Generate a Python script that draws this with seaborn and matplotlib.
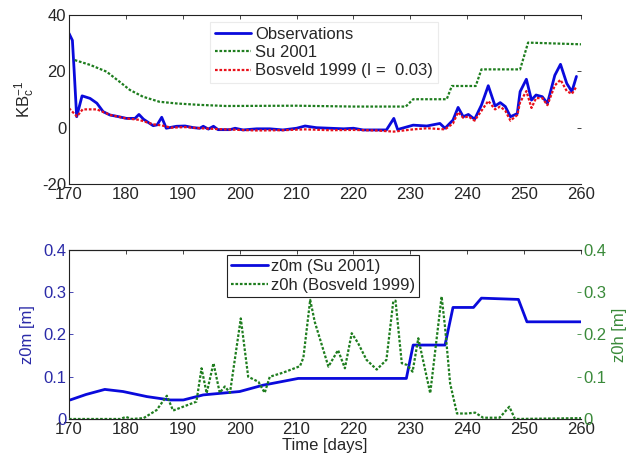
import numpy as np
import pandas as pd
import matplotlib
matplotlib.use("Agg")
import matplotlib.pyplot as plt
import seaborn as sns

# ---------------- data ----------------
obs_day = [170.0, 170.6, 170.9, 171.35, 172.3, 173.7, 174.9, 176.0, 177.2, 178.5, 180.1, 181.6,
           182.3, 183.1, 184.8, 185.5, 186.3, 187.1, 188.9, 190.4, 191.9, 193.0, 193.6, 194.5,
           195.4, 196.2, 198.3, 199.2, 200.6, 203.0, 205.3, 207.6, 210.0, 211.5, 213.5, 215.9,
           218.3, 220.0, 221.7, 224.1, 225.8, 227.1, 227.8, 228.2, 230.5, 232.9, 235.2, 236.1,
           237.5, 238.4, 239.3, 240.2, 241.3, 242.5, 243.7, 244.9, 245.8, 246.7, 247.6, 248.8,
           249.3, 250.4, 251.3, 252.1, 253.2, 254.1, 255.4, 256.4, 257.5, 258.4, 259.2]
obs_val = [33.5, 31.0, 20.5, 3.9, 11.3, 10.4, 8.7, 5.7, 4.5, 4.0, 3.3, 3.3,
           4.7, 3.0, 0.7, 1.0, 3.7, -0.2, 0.5, 0.6, 0.0, -0.2, 0.5, -0.5,
           0.5, -0.7, -0.7, -0.2, -0.8, -0.4, -0.4, -0.8, -0.2, 0.6, 0.0, -0.2,
           -0.4, -0.2, -0.8, -0.8, -0.8, 3.3, -0.8, -0.4, 0.9, 0.6, 1.5, -0.2,
           2.7, 7.2, 3.9, 4.7, 3.0, 8.0, 14.9, 7.7, 8.9, 7.5, 3.9, 5.0,
           12.8, 17.2, 9.8, 11.6, 11.0, 8.6, 18.6, 22.5, 15.7, 12.8, 18.2]

bos_day = [170.0, 171.4, 172.4, 174.9, 177.3, 180.0, 182.3, 184.8, 186.3, 188.0, 190.4, 193.0,
           196.2, 200.0, 203.0, 207.6, 211.5, 215.9, 220.0, 224.1, 227.1, 230.5, 233.0, 236.1,
           237.5, 238.4, 239.3, 240.2, 241.3, 242.5, 243.7, 244.9, 245.8, 246.7, 247.6, 248.8,
           249.3, 250.4, 251.3, 252.1, 253.2, 254.1, 255.4, 256.4, 257.5, 258.4, 259.2]
bos_val = [6.9, 4.0, 6.5, 6.5, 4.5, 3.3, 2.8, 1.2, 0.8, 0.0, 0.2, -0.2,
           -0.5, -0.8, -1.0, -0.9, -0.6, -0.9, -0.8, -1.0, -1.4, -0.6, -0.2, -0.6,
           1.5, 5.5, 3.5, 4.0, 2.5, 6.0, 9.5, 6.5, 7.5, 6.0, 2.5, 4.5,
           9.0, 13.0, 7.0, 10.5, 10.5, 8.0, 15.0, 17.0, 13.0, 12.0, 14.6]

su_day = [171.0, 173.7, 176.6, 178.9, 180.7, 183.0, 185.9, 188.9, 192.9, 197.6, 210.0, 220.0,
          229.2, 230.5, 236.4, 237.3, 241.5, 242.5, 249.3, 250.7, 260.0]
su_val = [24.0, 22.3, 19.9, 16.3, 13.4, 11.0, 9.2, 8.6, 8.1, 7.7, 7.8, 7.5,
          7.5, 10.1, 10.1, 14.8, 14.8, 20.7, 20.7, 30.2, 29.6]

z0m_day = [170.2, 173.0, 176.3, 179.5, 183.7, 187.8, 190.1, 193.6, 200.0, 204.1, 210.3,
           229.3, 230.5, 236.1, 237.5, 241.1, 242.5, 249.0, 250.5, 260.0]
z0m_val = [0.045, 0.058, 0.070, 0.065, 0.053, 0.045, 0.045, 0.057, 0.065, 0.080, 0.096,
           0.096, 0.175, 0.175, 0.264, 0.264, 0.286, 0.283, 0.230, 0.230]

z0h_day = [170.0, 179.0, 180.0, 181.0, 183.1, 185.4, 187.2, 188.3, 192.4, 193.3, 194.2,
           195.4, 196.5, 197.4, 198.3, 200.2, 201.5, 203.3, 204.4, 205.3, 207.7, 210.6,
           211.2, 212.4, 213.2, 215.6, 217.3, 218.5, 219.7, 220.8, 222.3, 224.1, 225.8,
           227.0, 227.4, 228.5, 229.4, 230.4, 231.4, 233.5, 235.5, 236.1, 237.0, 238.2,
           239.9, 241.4, 242.8, 245.7, 247.4, 248.4, 260.0]
z0h_val = [0.0, 0.0, 0.005, 0.0, 0.002, 0.021, 0.055, 0.020, 0.041, 0.120, 0.061,
           0.132, 0.062, 0.077, 0.062, 0.238, 0.100, 0.088, 0.062, 0.100, 0.110, 0.125,
           0.145, 0.282, 0.230, 0.124, 0.163, 0.120, 0.203, 0.180, 0.140, 0.117, 0.140,
           0.278, 0.280, 0.132, 0.128, 0.112, 0.191, 0.061, 0.290, 0.218, 0.084, 0.013,
           0.013, 0.015, 0.003, 0.003, 0.029, 0.000, 0.002]

xticks = [170, 180, 190, 200, 210, 220, 230, 240, 250, 260]

# ---------------- styling ----------------
sns.set_style("white")
plt.rcParams['font.family'] = ['Liberation Sans', 'DejaVu Sans']
plt.rcParams['mathtext.default'] = 'regular'
plt.rcParams['mathtext.fontset'] = 'custom'
plt.rcParams['mathtext.rm'] = 'Liberation Sans'
plt.rcParams['axes.unicode_minus'] = False
plt.rcParams['xtick.direction'] = 'in'
plt.rcParams['ytick.direction'] = 'in'

BLUE = '#0a0adc'
GREEN = '#1e7d1e'
RED = '#e8101a'
TICKBLUE = '#2a2aa8'
TICKGREEN = '#3a8a3a'
FS = 12

fig = plt.figure(figsize=(6.3, 4.62), dpi=100)
ax1 = fig.add_axes([0.1095, 0.6017, 0.8127, 0.3658])
ax2 = fig.add_axes([0.1095, 0.0931, 0.8127, 0.3658])

# ---- top panel ----
df_obs = pd.DataFrame({'day': obs_day, 'v': obs_val})
df_su = pd.DataFrame({'day': su_day, 'v': su_val})
df_bos = pd.DataFrame({'day': bos_day, 'v': bos_val})
sns.lineplot(data=df_obs, x='day', y='v', ax=ax1, color=BLUE, lw=2.0, label='Observations')
sns.lineplot(data=df_su, x='day', y='v', ax=ax1, color=GREEN, lw=1.6, ls=(0, (1.2, 0.8)), label='Su 2001')
sns.lineplot(data=df_bos, x='day', y='v', ax=ax1, color=RED, lw=1.6, ls=(0, (1.2, 0.8)),
             label='Bosveld 1999 (I =  0.03)')
ax1.set_xlim(170, 260)
ax1.set_ylim(-20, 40)
ax1.set_xticks(xticks)
ax1.set_yticks([-20, 0, 20, 40])
ax1.set_xlabel('')
ax1.set_ylabel(r'KB$_c^{-1}$', fontsize=FS, labelpad=4)
ax1.tick_params(axis='both', labelsize=FS, top=True, right=True, length=3, width=0.6, pad=2)
for s in ['left', 'bottom', 'top']:
    ax1.spines[s].set_color('#222222'); ax1.spines[s].set_linewidth(0.8)
ax1.spines['right'].set_visible(False)
leg1 = ax1.legend(loc='upper left', bbox_to_anchor=(0.275, 0.96), fontsize=FS, frameon=True,
                  fancybox=False, handlelength=2.2, handletextpad=0.2, borderpad=0.3,
                  labelspacing=0.2, borderaxespad=0)
leg1.get_frame().set_edgecolor('#e6e6e6')
leg1.get_frame().set_linewidth(0.8)

# ---- bottom panel ----
df_m = pd.DataFrame({'day': z0m_day, 'v': z0m_val})
df_h = pd.DataFrame({'day': z0h_day, 'v': z0h_val})
ax3 = ax2.twinx()
sns.lineplot(data=df_m, x='day', y='v', ax=ax2, color=BLUE, lw=2.0, label='z0m (Su 2001)')
sns.lineplot(data=df_h, x='day', y='v', ax=ax3, color=GREEN, lw=1.6, ls=(0, (1.2, 0.8)),
             label='z0h (Bosveld 1999)', legend=False)
ax2.set_xlim(170, 260)
ax2.set_ylim(0, 0.4)
ax3.set_ylim(0, 0.4)
ax2.set_xticks(xticks)
ax2.set_yticks([0, 0.1, 0.2, 0.3, 0.4])
ax3.set_yticks([0, 0.1, 0.2, 0.3, 0.4])
ax2.set_yticklabels(['0', '0.1', '0.2', '0.3', '0.4'])
ax3.set_yticklabels(['0', '0.1', '0.2', '0.3', '0.4'])
ax2.set_xlabel('Time [days]', fontsize=FS, labelpad=1)
ax2.set_ylabel('z0m [m]', fontsize=FS, color=TICKBLUE, labelpad=6)
ax3.set_ylabel('z0h [m]', fontsize=FS, color=TICKGREEN, labelpad=4)
ax2.tick_params(axis='x', labelsize=FS, top=True, length=3, width=0.6, pad=2)
ax2.tick_params(axis='y', labelsize=FS, colors=TICKBLUE, length=3, width=0.6, pad=2)
ax3.tick_params(axis='y', labelsize=FS, colors=TICKGREEN, length=3, width=0.6, pad=2, direction='in')
for a in (ax2, ax3):
    for s in ['left', 'bottom', 'top']:
        a.spines[s].set_color('#222222'); a.spines[s].set_linewidth(0.8)
    a.spines['right'].set_visible(False)
ax3.spines['left'].set_visible(False)

h1, l1 = ax2.get_legend_handles_labels()
h2, l2 = ax3.get_legend_handles_labels()
if ax2.get_legend() is not None:
    ax2.get_legend().remove()
leg2 = ax3.legend(h1 + h2, l1 + l2, loc='upper left', bbox_to_anchor=(0.309, 0.97), fontsize=FS,
                  frameon=True, fancybox=False, handlelength=2.2, handletextpad=0.15, borderpad=0.25,
                  labelspacing=0.2, borderaxespad=0)
leg2.get_frame().set_edgecolor('#222222')
leg2.get_frame().set_linewidth(0.8)
leg2.get_frame().set_alpha(1)

fig.savefig('out.png', dpi=100)
